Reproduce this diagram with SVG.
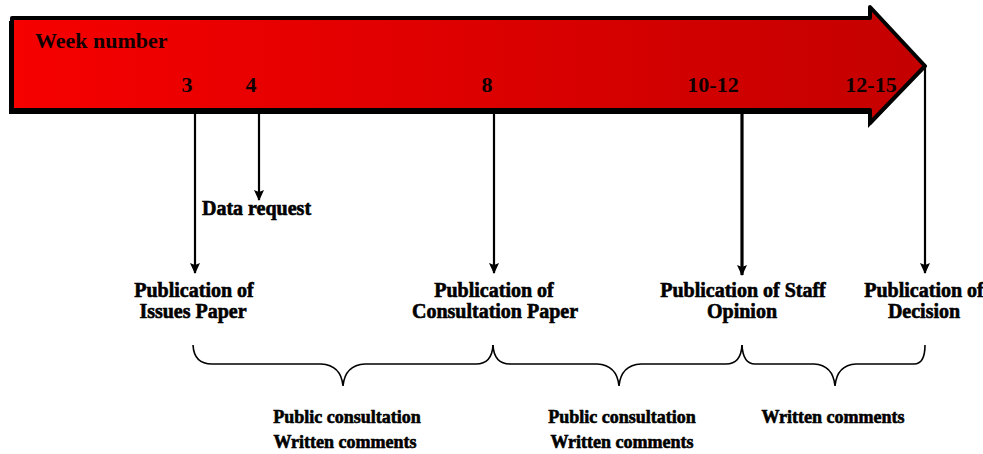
<svg xmlns="http://www.w3.org/2000/svg" width="983" height="454" viewBox="0 0 983 454">
  <defs>
    <linearGradient id="barFill" x1="0" y1="0" x2="1" y2="0">
      <stop offset="0" stop-color="#f60000"/>
      <stop offset="1" stop-color="#c40000"/>
    </linearGradient>
    <marker id="down" viewBox="0 0 10 12" refX="5" refY="11" markerWidth="10" markerHeight="12" markerUnits="userSpaceOnUse" orient="0">
      <path d="M0,1 L5,3 L10,1 L5,12 Z" fill="#000"/>
    </marker>
  </defs>
  <style>
    .scale { font-family: "Liberation Serif", "Times New Roman", serif; font-weight: bold; font-size: 22px; fill: #110000; }
    .lbl { font-family: "Liberation Serif", "Times New Roman", serif; font-weight: bold; font-size: 20px; fill: #000; stroke: #000; stroke-width: 0.6px; }
    .note { font-family: "Liberation Serif", "Times New Roman", serif; font-weight: bold; font-size: 18px; fill: #000; stroke: #000; stroke-width: 0.6px; }
    .mid { text-anchor: middle; }
    .conn { stroke: #000; stroke-width: 2.2; fill: none; marker-end: url(#down); }
    .brace { stroke: #000; stroke-width: 1.6; fill: none; }
  </style>

  <!-- timeline arrow with week scale -->
  <g id="timeline">
    <path d="M9,21 L868,21 L868,10 L923,69 L868,128 L868,114 L9,114 Z" fill="#000"/>
    <path d="M12,18 L870,18 L870,7 L925,66 L870,123 L870,110 L12,110 Z" fill="url(#barFill)" stroke="#000" stroke-width="4" stroke-linejoin="round"/>
    <text class="scale" x="35" y="48">Week number</text>
    <text class="scale mid" x="187" y="92">3</text>
    <text class="scale mid" x="251" y="92">4</text>
    <text class="scale mid" x="487" y="92">8</text>
    <text class="scale mid" x="713" y="92">10-12</text>
    <text class="scale mid" x="871" y="92">12-15</text>
  </g>

  <!-- connectors from the week scale down to each milestone -->
  <g id="connectors">
    <line class="conn" x1="195" y1="112" x2="195" y2="273"/>
    <line class="conn" x1="259" y1="112" x2="259" y2="200"/>
    <line class="conn" x1="494" y1="112" x2="494" y2="273"/>
    <line class="conn" x1="742" y1="112" x2="742" y2="275" style="stroke-width:3.2"/>
    <line class="conn" x1="925" y1="68" x2="925" y2="273"/>
  </g>

  <g id="data-request">
    <text class="lbl" x="202" y="215">Data request</text>
  </g>

  <g id="issues-paper">
    <text class="lbl mid" x="194" y="297">Publication of</text>
    <text class="lbl mid" x="193" y="318">Issues Paper</text>
  </g>

  <g id="consultation-paper">
    <text class="lbl mid" x="494" y="297">Publication of</text>
    <text class="lbl mid" x="495" y="318">Consultation Paper</text>
  </g>

  <g id="staff-opinion">
    <text class="lbl mid" x="743" y="297">Publication of Staff</text>
    <text class="lbl mid" x="742" y="318">Opinion</text>
  </g>

  <g id="decision">
    <text class="lbl mid" x="924" y="297">Publication of</text>
    <text class="lbl mid" x="924" y="318">Decision</text>
  </g>

  <!-- braces spanning the consultation periods -->
  <g id="period-1">
    <path class="brace" d="M193,345 Q194,364 212,364 L321,364 Q341,365 343,386 Q345,365 365,364 L476,364 Q492,364 493,345"/>
    <text class="note mid" x="347" y="423">Public consultation</text>
    <text class="note mid" x="345" y="448">Written comments</text>
  </g>

  <g id="period-2">
    <path class="brace" d="M493,345 Q494,364 510,364 L597,364 Q617,365 619,386 Q621,365 641,364 L726,364 Q741,364 742,345"/>
    <text class="note mid" x="622" y="423">Public consultation</text>
    <text class="note mid" x="622" y="448">Written comments</text>
  </g>

  <g id="period-3">
    <path class="brace" d="M742,345 Q743,364 755,364 L814,364 Q833,365 835,386 Q837,365 856,364 L914,364 Q925,364 925,345"/>
    <text class="note mid" x="833" y="423">Written comments</text>
  </g>
</svg>
